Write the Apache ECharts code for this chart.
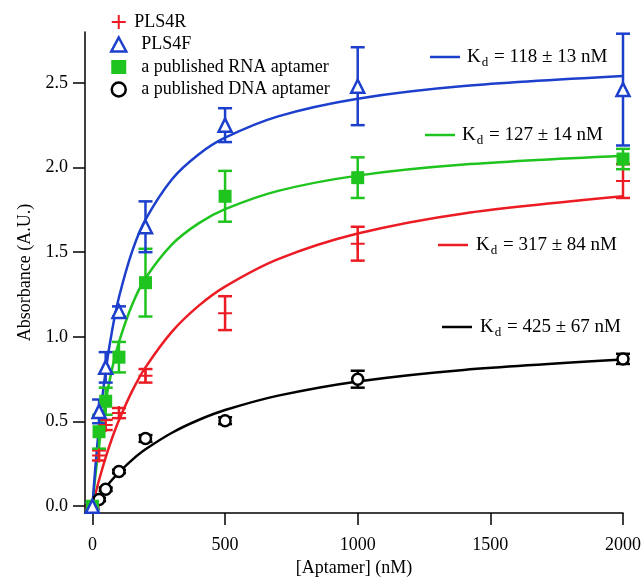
<!DOCTYPE html>
<html>
<head>
<meta charset="utf-8">
<script src="https://cdn.jsdelivr.net/npm/echarts@6/dist/echarts.min.js"></script>
<style>
  html, body { margin: 0; padding: 0; background: #fff; }
  #chart { width: 644px; height: 578px; }
</style>
</head>
<body>
<div id="chart"></div>
<script>
// aptamer concentration (nM) of the measured points
var conc = [0, 25, 50, 100, 200, 500, 1000, 2000];

// measured absorbance, mean and error for each aptamer
var pls4rMean = [0, 0.30, 0.48, 0.55, 0.77, 1.14, 1.55, 1.92];
var pls4rErr  = [0.02, 0.03, 0.03, 0.03, 0.04, 0.10, 0.10, 0.10];
var pls4fMean = [0, 0.56, 0.82, 1.15, 1.65, 2.25, 2.48, 2.46];
var pls4fErr  = [0.02, 0.07, 0.09, 0.03, 0.15, 0.10, 0.23, 0.33];
var rnaMean   = [0, 0.44, 0.62, 0.88, 1.32, 1.83, 1.94, 2.05];
var rnaErr    = [0.02, 0.10, 0.08, 0.09, 0.20, 0.15, 0.12, 0.06];
var dnaMean   = [0, 0.04, 0.10, 0.205, 0.40, 0.505, 0.75, 0.87];
var dnaErr    = [0.01, 0.01, 0.01, 0.01, 0.02, 0.02, 0.05, 0.03];

// fitted binding curves
var fitX    = [0, 10, 25, 50, 75, 100, 150, 200, 300, 400, 500, 700, 1000, 1400, 2000];
var fitF    = [0, 0.21, 0.47, 0.80, 1.045, 1.234, 1.506, 1.692, 1.931, 2.077, 2.176, 2.302, 2.406, 2.481, 2.54];
var fitRna  = [0, 0.161, 0.362, 0.621, 0.817, 0.969, 1.191, 1.346, 1.546, 1.670, 1.754, 1.862, 1.952, 2.017, 2.069];
var fitR    = [0, 0.065, 0.155, 0.289, 0.406, 0.508, 0.681, 0.820, 1.031, 1.183, 1.297, 1.459, 1.610, 1.729, 1.83];
var fitDna  = [0, 0.024, 0.058, 0.111, 0.158, 0.200, 0.274, 0.336, 0.434, 0.509, 0.568, 0.653, 0.737, 0.805, 0.866];

// tick labels
var xTicks = [0, 500, 1000, 1500, 2000];
var yTicks = [0, 0.5, 1.0, 1.5, 2.0, 2.5];

var names = ['PLS4R', 'PLS4F', 'a published RNA aptamer', 'a published DNA aptamer'];
var kdLabels = ['118 ± 13', '127 ± 14', '317 ± 84', '425 ± 67'];

var RED = '#ec1c24', BLUE = '#1c3fcc', GREEN = '#1fc41f', BLACK = '#000000';
var FONT = '"Liberation Serif", "DejaVu Serif", serif';

var plusPath = 'path://M6,0h2v6h6v2h-6v6h-2v-6h-6v-2h6z';

function pairs(xs, ys) {
  var out = [];
  for (var i = 0; i < xs.length; i++) out.push([xs[i], ys[i]]);
  return out;
}
function triples(xs, ys, es) {
  var out = [];
  for (var i = 0; i < xs.length; i++) out.push([xs[i], ys[i], es[i]]);
  return out;
}

function errorSeries(mean, err, color) {
  return {
    type: 'custom',
    silent: true,
    z: 3,
    data: triples(conc, mean, err),
    renderItem: function (params, api) {
      var x = api.value(0), y = api.value(1), e = api.value(2);
      var top = api.coord([x, y + e]);
      var bot = api.coord([x, y - e]);
      var w = 7;
      var st = { stroke: color, lineWidth: 2.5 };
      return {
        type: 'group',
        children: [
          { type: 'line', shape: { x1: top[0], y1: top[1], x2: bot[0], y2: bot[1] }, style: st },
          { type: 'line', shape: { x1: top[0] - w, y1: top[1], x2: top[0] + w, y2: top[1] }, style: st },
          { type: 'line', shape: { x1: bot[0] - w, y1: bot[1], x2: bot[0] + w, y2: bot[1] }, style: st }
        ]
      };
    }
  };
}

function curveSeries(ys, color) {
  return {
    type: 'line',
    data: pairs(fitX, ys),
    smooth: 0.3,
    showSymbol: false,
    silent: true,
    z: 2,
    lineStyle: { color: color, width: 2.5 }
  };
}

function kdGraphic(i, color, lx, ly, tx) {
  return [
    { type: 'line', shape: { x1: lx, y1: ly, x2: lx + 30, y2: ly },
      style: { stroke: color, lineWidth: 2.5 } },
    { type: 'text', x: tx, y: ly,
      style: {
        text: '{k|K}{d|d}{k| = ' + kdLabels[i] + ' nM}',
        verticalAlign: 'middle',
        rich: {
          k: { fontFamily: FONT, fontSize: 19, fill: '#000' },
          d: { fontFamily: FONT, fontSize: 13, fill: '#000', padding: [12, 1, 0, 1] }
        }
      } }
  ];
}

var chart = echarts.init(document.getElementById('chart'));

var option = {
  animation: false,
  backgroundColor: '#fff',
  grid: { left: 85, right: 21, top: 32, bottom: 65, outerBoundsMode: 'none', containLabel: false },
  legend: {
    orient: 'vertical',
    left: 105,
    top: 8,
    itemWidth: 15,
    itemHeight: 14,
    itemGap: 4.5,
    selectedMode: false,
    textStyle: { fontFamily: FONT, fontSize: 18, color: '#000', padding: [0, 0, 0, 10] },
    data: [
      { name: names[0], icon: plusPath, itemStyle: { color: RED, borderWidth: 0 },
        textStyle: { padding: [0, 0, 0, 3] } },
      { name: names[1], icon: 'triangle', itemStyle: { color: '#fff', borderColor: BLUE, borderWidth: 2.5 } },
      { name: names[2], icon: 'rect', itemStyle: { color: GREEN, borderWidth: 0 } },
      { name: names[3], icon: 'circle', itemStyle: { color: '#fff', borderColor: BLACK, borderWidth: 2.5 } }
    ]
  },
  xAxis: {
    type: 'value',
    min: -28,
    max: 2000,
    name: '[Aptamer] (nM)',
    nameLocation: 'middle',
    nameGap: 46,
    nameTextStyle: { fontFamily: FONT, fontSize: 18, color: '#000' },
    axisLine: { show: true, onZero: false, lineStyle: { color: '#000', width: 1.5 } },
    axisTick: { show: true, inside: false, length: 12, customValues: xTicks, lineStyle: { color: '#000', width: 1.5 } },
    axisLabel: {
      customValues: xTicks, margin: 23, fontFamily: FONT, fontSize: 18, color: '#000',
      formatter: function (v) { return String(v); }
    },
    splitLine: { show: false }
  },
  yAxis: {
    type: 'value',
    min: -0.04,
    max: 2.8,
    name: 'Absorbance (A.U.)',
    nameLocation: 'middle',
    nameGap: 51,
    nameTextStyle: { fontFamily: FONT, fontSize: 18, color: '#000' },
    axisLine: { show: true, onZero: false, lineStyle: { color: '#000', width: 1.5 } },
    axisTick: { show: true, inside: false, length: 12, customValues: yTicks, lineStyle: { color: '#000', width: 1.5 } },
    axisLabel: {
      customValues: yTicks, margin: 17, fontFamily: FONT, fontSize: 18, color: '#000',
      formatter: function (v) { return v.toFixed(1); }
    },
    splitLine: { show: false }
  },
  graphic: [].concat(
    kdGraphic(0, BLUE, 430, 57, 467),
    kdGraphic(1, GREEN, 425, 135, 462),
    kdGraphic(2, RED, 438, 245, 476),
    kdGraphic(3, BLACK, 442, 327, 480)
  ),
  series: [
    curveSeries(fitDna, BLACK),
    curveSeries(fitR, RED),
    curveSeries(fitRna, GREEN),
    curveSeries(fitF, BLUE),
    errorSeries(dnaMean, dnaErr, BLACK),
    errorSeries(pls4rMean, pls4rErr, RED),
    errorSeries(rnaMean, rnaErr, GREEN),
    errorSeries(pls4fMean, pls4fErr, BLUE),
    {
      name: names[3], type: 'scatter', z: 4, data: pairs(conc, dnaMean),
      symbol: 'circle', symbolSize: 11,
      itemStyle: { color: '#fff', borderColor: BLACK, borderWidth: 2.5, opacity: 1 }
    },
    {
      name: names[0], type: 'scatter', z: 4, data: pairs(conc, pls4rMean),
      symbol: plusPath, symbolSize: 14,
      itemStyle: { color: RED, opacity: 1 }
    },
    {
      name: names[2], type: 'scatter', z: 4, data: pairs(conc, rnaMean),
      symbol: 'rect', symbolSize: 13,
      itemStyle: { color: GREEN, opacity: 1 }
    },
    {
      name: names[1], type: 'scatter', z: 4, data: pairs(conc, pls4fMean),
      symbol: 'triangle', symbolSize: 13,
      itemStyle: { color: '#fff', borderColor: BLUE, borderWidth: 2.5, opacity: 1 }
    }
  ]
};

chart.setOption(option);
</script>
</body>
</html>
